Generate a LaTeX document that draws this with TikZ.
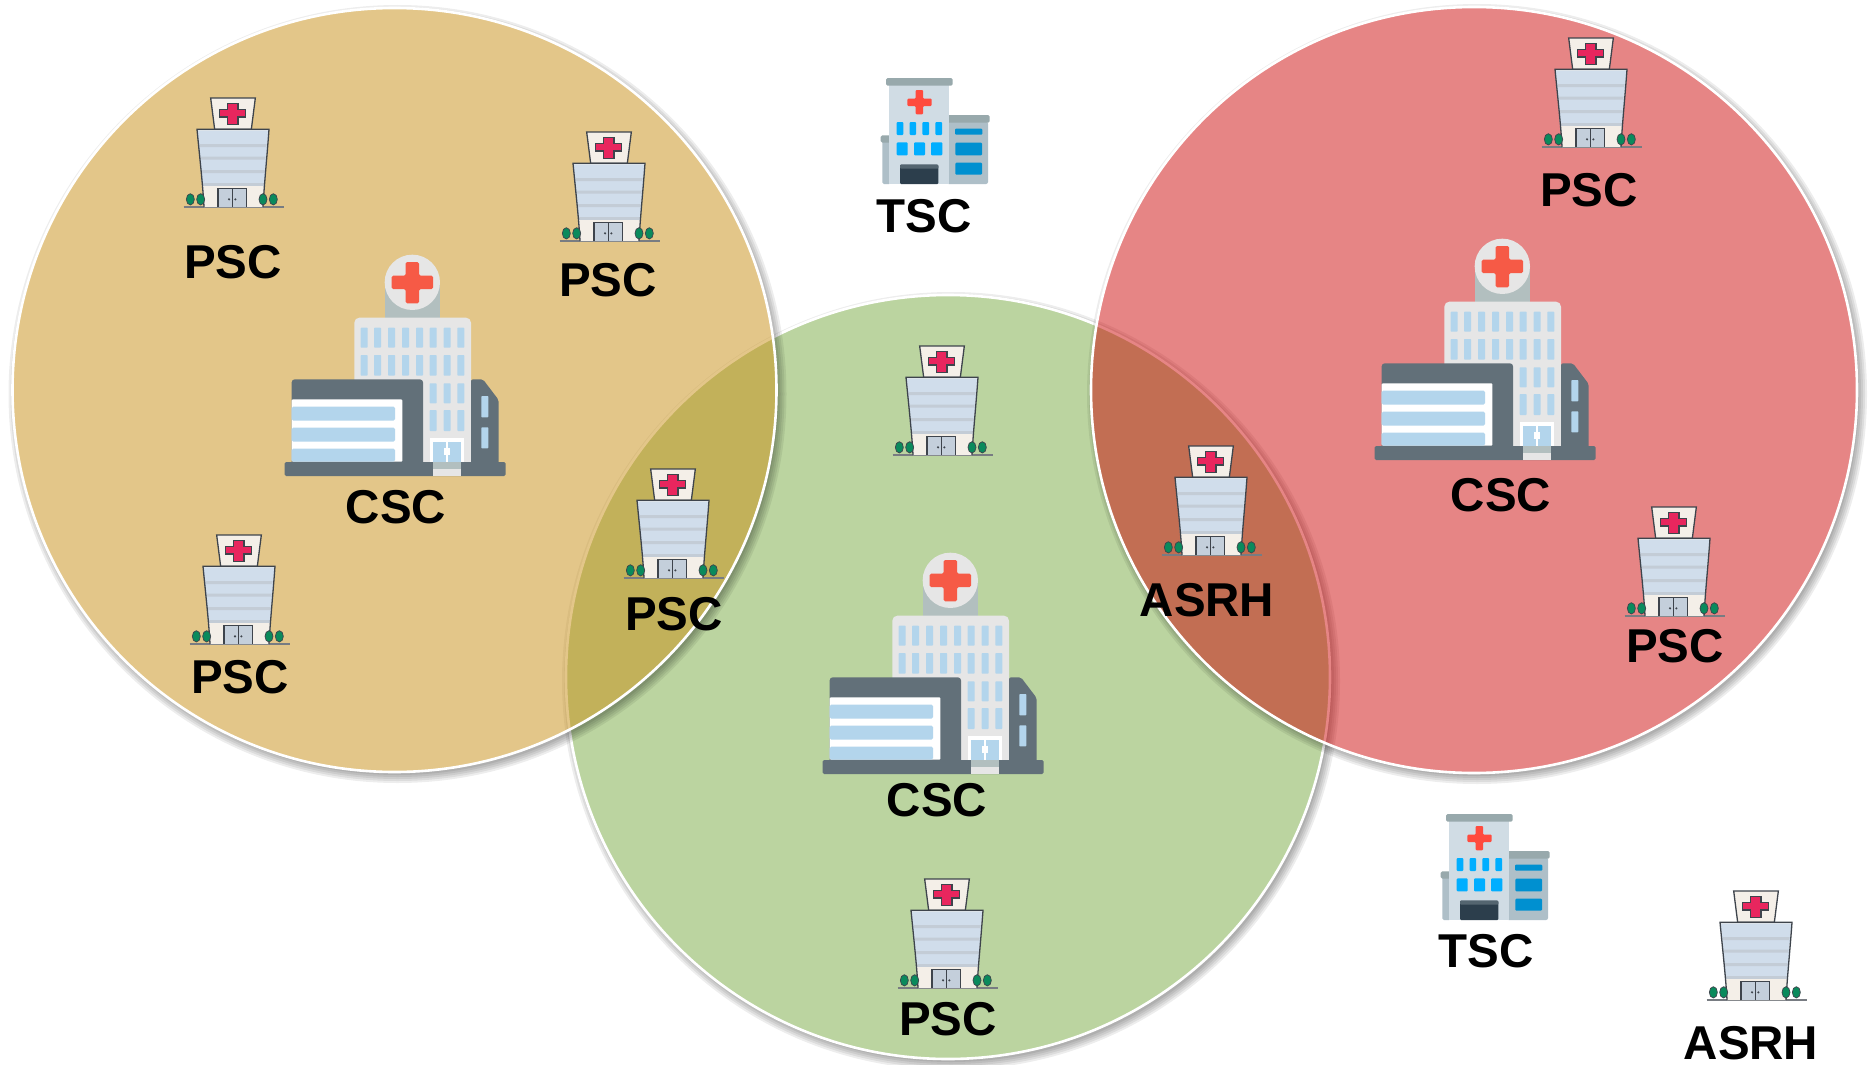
\documentclass[tikz,border=0pt]{standalone}
\usepackage{fontspec}
\setmainfont{Liberation Sans}
\definecolor{grnfill}{RGB}{187,212,160}
\definecolor{tanfill}{RGB}{201,143,21}
\definecolor{redfill}{RGB}{203,0,0}
\definecolor{hatcream}{RGB}{244,239,232}
\definecolor{psclue}{RGB}{208,221,235}
\definecolor{pscband}{RGB}{195,204,214}
\definecolor{pscink}{RGB}{62,68,76}
\definecolor{pscred}{RGB}{232,38,94}
\definecolor{psctree}{RGB}{10,138,92}
\definecolor{cscdark}{RGB}{98,112,121}
\definecolor{cscglass}{RGB}{179,213,236}
\definecolor{cscgrey}{RGB}{230,230,230}
\definecolor{cscneck}{RGB}{178,191,191}
\definecolor{cscred}{RGB}{246,90,70}
\definecolor{tsccap}{RGB}{152,169,172}
\definecolor{tscwing}{RGB}{174,191,200}
\definecolor{tscmain}{RGB}{208,220,228}
\definecolor{tsccross}{RGB}{255,75,62}
\definecolor{tscwin}{RGB}{0,174,255}
\definecolor{tscwinb}{RGB}{0,144,208}
\definecolor{tscdoor}{RGB}{44,62,76}
\definecolor{tscdoort}{RGB}{84,101,112}
\tikzset{
  lbl/.style={font=\fontsize{47.5}{50}\selectfont\bfseries,text=black,inner sep=0pt},
  pschosp/.pic={
    \begin{scope}[scale=1/3,shift={(-193,-380)}]
      \draw[pscink!70,line width=1.2pt] (42,380) -- (344,380);
      \filldraw[fill=hatcream,draw=pscink,line width=1.3pt] (123,53) -- (257,53) -- (245,147) -- (135,147) -- cycle;
      \filldraw[fill=pscred,draw=pscink,line width=1.2pt] (173,70) -- (205,70) -- (205,88) -- (227,88) -- (227,110) -- (205,110) -- (205,132) -- (173,132) -- (173,110) -- (150,110) -- (150,88) -- (173,88) -- cycle;
      \fill[hatcream] (82,147) -- (298,147) .. controls (292,230) and (283,320) .. (280,380) -- (103,380) .. controls (100,320) and (90,230) .. (82,147) -- cycle;
      \fill[psclue] (84,150) -- (296,150) .. controls (291,210) and (287,270) .. (284,316) -- (97,316) .. controls (94,270) and (88,210) .. (84,150) -- cycle;
      \fill[pscband] (89,191) -- (291,191) -- (290,200) -- (90,200) -- cycle;
      \fill[pscband] (92,229) -- (288,229) -- (287,238) -- (93,238) -- cycle;
      \fill[pscband] (95,269) -- (285,269) -- (285,278) -- (96,278) -- cycle;
      \fill[pscband] (97,309) -- (284,309) -- (284,316) -- (97,316) -- cycle;
      \draw[pscink,line width=1.3pt] (103,380) .. controls (100,320) and (90,230) .. (82,147) -- (298,147) .. controls (292,230) and (283,320) .. (280,380);
      \filldraw[fill=psclue!85!gray,draw=pscink,line width=1.2pt] (145,380) -- (145,325) -- (230,325) -- (230,380);
      \draw[pscink,line width=1pt] (187,325) -- (187,380);
      \fill[pscink] (178,357) circle (3.5) (197,357) circle (3.5);
      \foreach \tx in {62,93,280,311}{
        \filldraw[fill=psctree,draw=pscink,line width=.7pt] (\tx,357) ellipse (12 and 17);
      }
    \end{scope}
  },
  cschosp/.pic={
    \begin{scope}[scale=1/3,shift={(-376,-708)}]
      \fill[cscneck] (345,127) rectangle (511,236);
      \fill[cscgrey] (428,127) circle (83);
      \fill[cscred,rounded corners=1.5pt] (408,66) -- (448,66) -- (448,107) -- (490,107) -- (490,147) -- (448,147) -- (448,190) -- (408,190) -- (408,147) -- (366,147) -- (366,107) -- (408,107) -- cycle;
      \fill[cscgrey,rounded corners=5pt] (254,680) -- (254,233) -- (604,233) -- (604,680) -- cycle;
      \foreach \wx in {273,313,355,397,439,480,522,563}{
        \fill[cscglass,rounded corners=.7pt] (\wx,263) rectangle (\wx+21,323);
        \fill[cscglass,rounded corners=.7pt] (\wx,345) rectangle (\wx+21,407);
      }
      \foreach \wx in {480,522,563}{
        \fill[cscglass,rounded corners=.7pt] (\wx,430) rectangle (\wx+21,490);
        \fill[cscglass,rounded corners=.7pt] (\wx,510) rectangle (\wx+21,573);
      }
      \fill[cscdark,rounded corners=2pt] (604,680) -- (604,418) -- (640,418) -- (687,480) -- (687,680) -- cycle;
      \fill[cscglass,rounded corners=.7pt] (635,468) rectangle (656,532);
      \fill[cscglass,rounded corners=.7pt] (635,562) rectangle (656,625);
      \fill[cscdark,rounded corners=3pt] (66,680) -- (66,418) -- (460,418) -- (460,680) -- cycle;
      \fill[white,rounded corners=1pt] (66,665) -- (66,478) -- (398,478) -- (398,665) -- cycle;
      \fill[cscglass,rounded corners=1.5pt] (66,500) -- (376,500) -- (376,542) -- (66,542) -- cycle;
      \fill[cscglass,rounded corners=1.5pt] (66,563) -- (376,563) -- (376,605) -- (66,605) -- cycle;
      \fill[cscglass,rounded corners=1.5pt] (66,626) -- (376,626) -- (376,665) -- (66,665) -- cycle;
      \fill[cscdark,rounded corners=1.5pt] (45,666) rectangle (708,708);
      \fill[white] (480,594) rectangle (584,666);
      \fill[cscglass] (490,605) rectangle (574,666);
      \fill[white] (529,605) rectangle (535,666);
      \fill[white] (522,625) rectangle (542,645);
      \fill[cscneck] (490,666) rectangle (574,687);
      \fill[cscgrey] (490,687) rectangle (574,708);
    \end{scope}
  },
  tschosp/.pic={
    \begin{scope}[scale=1/3,shift={(-225,-372)}]
      \fill[tscwing,rounded corners=1.5pt] (67,372) -- (67,235) -- (92,235) -- (92,372) -- cycle;
      \fill[tsccap,rounded corners=1.5pt] (62,226) -- (92,226) -- (92,248) -- (62,248) -- cycle;
      \fill[tscwing,rounded corners=2pt] (260,372) -- (260,185) -- (384,185) -- (384,372) -- cycle;
      \fill[tsccap,rounded corners=1.5pt] (260,165) -- (389,165) -- (389,188) -- (260,188) -- cycle;
      \fill[tscmain] (88,75) rectangle (268,372);
      \fill[tsccap,rounded corners=1.5pt] (78,54) -- (278,54) -- (278,77) -- (78,77) -- cycle;
      \fill[tsccross,rounded corners=1pt] (167,90) -- (189,90) -- (189,116) -- (215,116) -- (215,138) -- (189,138) -- (189,163) -- (167,163) -- (167,138) -- (142,138) -- (142,116) -- (167,116) -- cycle;
      \foreach \wa/\wb in {110/130,149/168,187/207,226/246}{
        \fill[tscwin,rounded corners=1pt] (\wa,186) rectangle (\wb,225);
      }
      \foreach \wa/\wb in {110/143,162/195,213/247}{
        \fill[tscwin,rounded corners=1pt] (\wa,247) rectangle (\wb,286);
      }
      \fill[tscdoor,rounded corners=1pt] (120,372) -- (120,314) -- (235,314) -- (235,372) -- cycle;
      \fill[tscdoort,rounded corners=1pt] (120,326) -- (120,314) -- (235,314) -- (235,326) -- cycle;
      \fill[tscwinb,rounded corners=1pt] (285,206) rectangle (367,224);
      \fill[tscwinb,rounded corners=1pt] (286,248) rectangle (366,286);
      \fill[tscwinb,rounded corners=1pt] (286,308) rectangle (366,344);
    \end{scope}
  }
}
% shadow outside the disc, then translucent disc with a white rim
\newcommand{\venndisc}[5]{%
  \begin{scope}[even odd rule]
    \clip (-100,-100) rectangle (2000,1200) (#1,#2) circle (#3pt);
    \foreach \dr in {-1,1,3,5,7}{
      \fill[black,opacity=.07] (#1+3,#2+4) circle ({(#3+\dr)*1pt});
    }
  \end{scope}
  \fill[#4,fill opacity=#5] (#1,#2) circle (#3pt);
  \draw[white,line width=2.6pt] (#1,#2) circle (#3pt);
}
\begin{document}
\begin{tikzpicture}[x=1pt,y=-1pt]
  \useasboundingbox (0,0) rectangle (1869,1065);
  \fill[white] (0,0) rectangle (1869,1065);
  \venndisc{948}{677}{382}{grnfill}{1}
  \venndisc{394.5}{390}{382}{tanfill}{.5}
  \venndisc{1474}{390}{383}{redfill}{.48}

  \pic (p1) at (234,207) {pschosp};
  \pic (p2) at (610,241) {pschosp};
  \pic (p3) at (240,644) {pschosp};
  \pic (p4) at (674,578) {pschosp};
  \pic (p5) at (943,455) {pschosp};
  \pic (p6) at (948,988) {pschosp};
  \pic (p7) at (1212,555) {pschosp};
  \pic (p8) at (1592,147) {pschosp};
  \pic (p9) at (1675,616) {pschosp};
  \pic (p10) at (1757,1000) {pschosp};

  \pic (c1) at (395,476) {cschosp};
  \pic (c2) at (933,774) {cschosp};
  \pic (c3) at (1485,460) {cschosp};

  \pic (t1) at (935,184) {tschosp};
  \pic (t2) at (1495,920) {tschosp};

  \node[lbl] (lp1) at (233,262) {PSC};
  \node[lbl] (lp2) at (608,280) {PSC};
  \node[lbl] (lp3) at (240,677) {PSC};
  \node[lbl] (lp4) at (674,614) {PSC};
  \node[lbl] (lp6) at (948,1019) {PSC};
  \node[lbl] (lp8) at (1589,190) {PSC};
  \node[lbl] (lp9) at (1675,646) {PSC};
  \node[lbl] (lc1) at (396,507) {CSC};
  \node[lbl] (lc2) at (937,800) {CSC};
  \node[lbl] (lc3) at (1501,495) {CSC};
  \node[lbl] (lt1) at (924,216) {TSC};
  \node[lbl] (lt2) at (1486,951) {TSC};
  \node[lbl] (la1) at (1207,600) {ASRH};
  \node[lbl] (la2) at (1751,1043) {ASRH};
\end{tikzpicture}
\end{document}
